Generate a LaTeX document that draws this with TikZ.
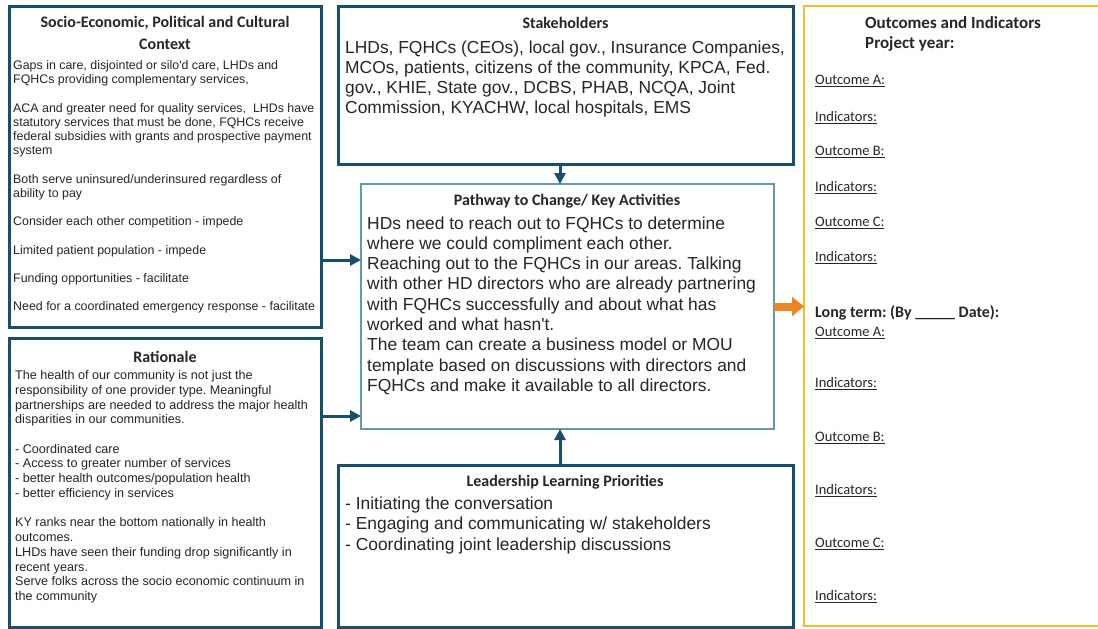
\documentclass[tikz,border=0pt]{standalone}
\usepackage{fontspec}
\setmainfont{Liberation Sans}
\newfontfamily\calibri{Carlito}
\usetikzlibrary{arrows.meta}

\definecolor{boxnavy}{RGB}{24,78,110}
\definecolor{pathteal}{RGB}{96,154,172}
\definecolor{outgold}{RGB}{248,184,44}
\definecolor{arroworange}{RGB}{233,135,36}
\definecolor{inkgray}{RGB}{38,38,38}

\begin{document}
\frenchspacing
\begin{tikzpicture}[x=1pt,y=-1pt,
  panel/.style={draw=boxnavy,line width=3pt,anchor=north west,inner sep=0pt,outer sep=0pt},
  paneltitle/.style={font=\calibri\bfseries\fontsize{16}{22}\selectfont,text=inkgray,inner sep=0pt,anchor=base,align=center},
  smalltext/.style={font=\fontsize{12.4}{14.2}\selectfont,text=inkgray,inner sep=0pt,anchor=base west,align=left},
  bigtext/.style={font=\fontsize{17.4}{20.3}\selectfont,text=inkgray,inner sep=0pt,anchor=base west,align=left},
  outitem/.style={font=\calibri\fontsize{14.5}{17}\selectfont,text=inkgray,inner sep=0pt,anchor=base west},
  feed/.style={draw=boxnavy,line width=3pt,-{Triangle[length=11pt,width=11pt]}},
  outfeed/.style={draw=arroworange,line width=8pt,-{Triangle[length=12pt,width=19pt]}},
]
\path[use as bounding box,fill=white] (0,0) rectangle (1098,629);
%\draw[step=50,black!20] (0,0) grid (1098,629);

% the six panels
\node[panel,minimum width=312pt,minimum height=321pt] (context) at (9,6) {};
\node[panel,minimum width=312pt,minimum height=289pt] (rationale) at (9,338) {};
\node[panel,minimum width=455pt,minimum height=158pt] (stakeholders) at (338,6) {};
\node[panel,draw=pathteal,line width=2pt,minimum width=413pt,minimum height=245pt] (pathway) at (361,184) {};
\node[panel,minimum width=455pt,minimum height=162pt] (leadership) at (338,465) {};
\node[panel,draw=outgold,line width=2.5pt,minimum width=300pt,minimum height=620pt] (outcomes) at (804,6) {};

% left column (multi-line texts sit on their last baseline)
\node[paneltitle] (context-title) at (165,49.5) {Socio-Economic, Political and Cultural\\Context};
\node[smalltext] (context-text) at (13,310.9) {Gaps in care, disjointed or silo\textquotesingle d care, LHDs and\\
FQHCs providing complementary services,\\[14.2pt]
ACA and greater need for quality services,\ \ LHDs have\\
statutory services that must be done, FQHCs receive\\
federal subsidies with grants and prospective payment\\
system\\[14.2pt]
Both serve uninsured/underinsured regardless of\\
ability to pay\\[14.2pt]
Consider each other competition - impede\\[14.2pt]
Limited patient population - impede\\[14.2pt]
Funding opportunities - facilitate\\[14.2pt]
Need for a coordinated emergency response - facilitate};

\node[paneltitle] (rationale-title) at (165,362.5) {Rationale};
\node[smalltext,font=\fontsize{12.6}{14.73}\selectfont] (rationale-text) at (15,600.5) {The health of our community is not just the\\
responsibility of one provider type. Meaningful\\
partnerships are needed to address the major health\\
disparities in our communities.\\[14.73pt]
- Coordinated care\\
- Access to greater number of services\\
- better health outcomes/population health\\
- better efficiency in services\\[14.73pt]
KY ranks near the bottom nationally in health\\
outcomes.\\
LHDs have seen their funding drop significantly in\\
recent years.\\
Serve folks across the socio economic continuum in\\
the community};

% middle column
\node[paneltitle] (stakeholders-title) at (565.5,28.5) {Stakeholders};
\node[bigtext,font=\fontsize{17.4}{20}\selectfont] (stakeholders-text) at (345,113) {LHDs, FQHCs (CEOs), local gov., Insurance Companies,\\
MCOs, patients, citizens of the community, KPCA, Fed.\\
gov., KHIE, State gov., DCBS, PHAB, NCQA, Joint\\
Commission, KYACHW, local hospitals, EMS};

\node[paneltitle] (pathway-title) at (567,205) {Pathway to Change/ Key Activities};
\node[bigtext] (pathway-text) at (367,391.4) {HDs need to reach out to FQHCs to determine\\
where we could compliment each other.\\
Reaching out to the FQHCs in our areas. Talking\\
with other HD directors who are already partnering\\
with FQHCs successfully and about what has\\
worked and what hasn\textquotesingle t.\\
The team can create a business model or MOU\\
template based on discussions with directors and\\
FQHCs and make it available to all directors.};

\node[paneltitle] (leadership-title) at (565,486) {Leadership Learning Priorities};
\node[bigtext,font=\fontsize{17.4}{20.6}\selectfont] (leadership-text) at (345,550.2) {- Initiating the conversation\\
- Engaging and communicating w/ stakeholders\\
- Coordinating joint leadership discussions};

% right column
\node[paneltitle,font=\calibri\bfseries\fontsize{17}{20}\selectfont,anchor=base west,align=left] (outcomes-title) at (865,48) {Outcomes and Indicators\\Project year:};
\node[outitem] (short-a) at (815,84.5) {\underline{Outcome A:}};
\node[outitem] (short-a-ind) at (815,121.5) {\underline{Indicators:}};
\node[outitem] (short-b) at (815,155.5) {\underline{Outcome B:}};
\node[outitem] (short-b-ind) at (815,191.5) {\underline{Indicators:}};
\node[outitem] (short-c) at (815,226.5) {\underline{Outcome C:}};
\node[outitem] (short-c-ind) at (815,261.5) {\underline{Indicators:}};
\node[outitem,font=\calibri\bfseries\fontsize{16}{17}\selectfont] (long-term) at (815,317) {Long term: (By \_\_\_\_\_ Date):};
\node[outitem] (long-a) at (815,336.5) {\underline{Outcome A:}};
\node[outitem] (long-a-ind) at (815,387.5) {\underline{Indicators:}};
\node[outitem] (long-b) at (815,441.5) {\underline{Outcome B:}};
\node[outitem] (long-b-ind) at (815,494.5) {\underline{Indicators:}};
\node[outitem] (long-c) at (815,547.5) {\underline{Outcome C:}};
\node[outitem] (long-c-ind) at (815,600.5) {\underline{Indicators:}};

% arrows into and out of the pathway
\draw[feed] (context.east |- 0,260) -- (pathway.west |- 0,260);
\draw[feed] (rationale.east |- 0,416) -- (pathway.west |- 0,416);
\draw[feed] (stakeholders.south -| 560,0) -- (pathway.north -| 560,0);
\draw[feed] (leadership.north -| 560,0) -- (pathway.south -| 560,0);
\draw[outfeed] (pathway.east) -- (outcomes.west |- pathway.east);
\end{tikzpicture}
\end{document}
